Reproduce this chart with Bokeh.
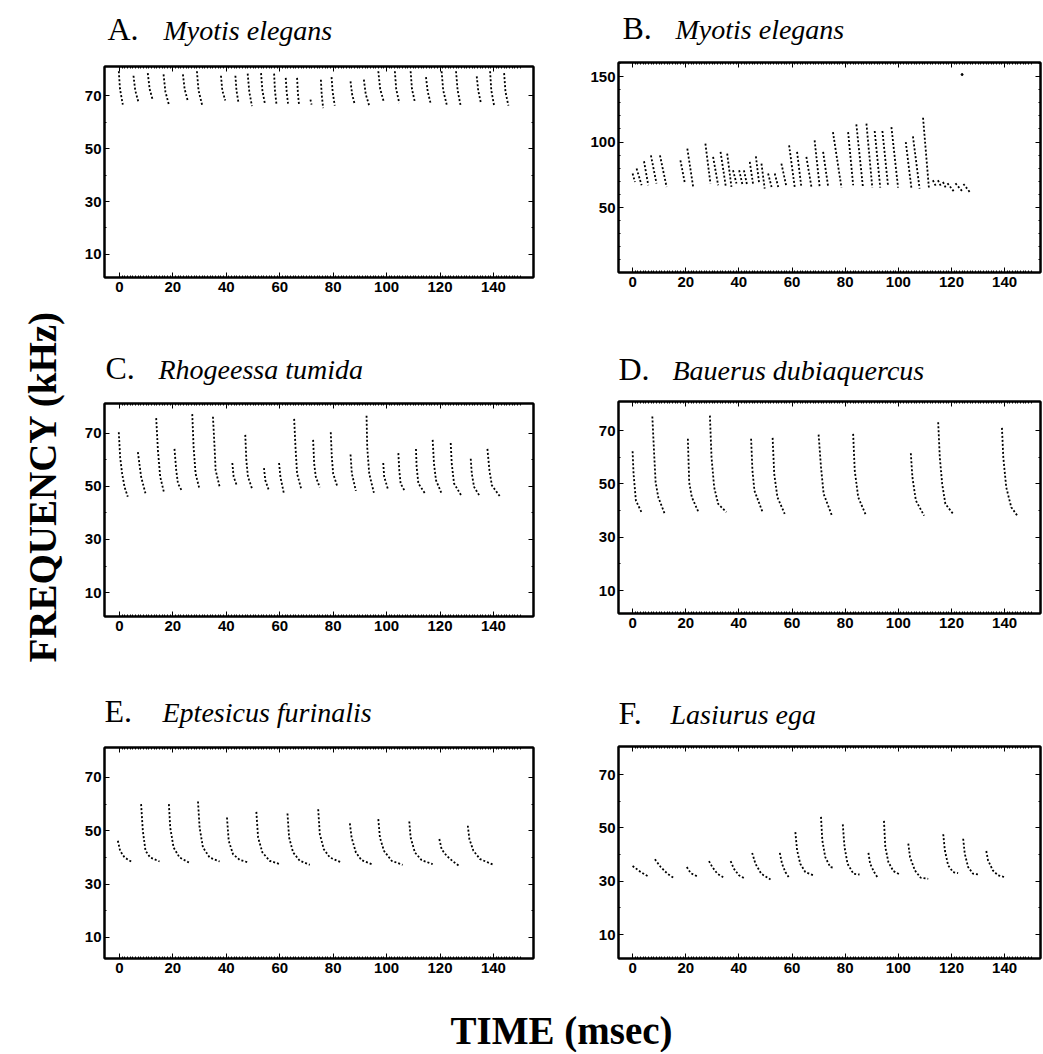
import math
from bokeh.plotting import figure
from bokeh.layouts import row, column
from bokeh.models import FixedTicker, LinearAxis, Range1d
from bokeh.embed import file_html
from bokeh.resources import INLINE
from bokeh.core.properties import value

# ---------------- data ----------------
X_TICKS = [0, 20, 40, 60, 80, 100, 120, 140]
X_MINOR = list(range(0, 151))
Y_TICKS_80 = [10, 30, 50, 70]
Y_MINOR_80 = [20, 40, 60]
Y_TICKS_B = [50, 100, 150]
Y_MINOR_B = [10, 20, 30, 40, 60, 70, 80, 90, 110, 120, 130, 140, 160]

LETTERS = ["A.", "B.", "C.", "D.", "E.", "F."]
SPECIES = ["Myotis elegans", "Myotis elegans", "Rhogeessa tumida",
           "Bauerus dubiaquercus", "Eptesicus furinalis", "Lasiurus ega"]
X_LABEL = "TIME (msec)"
Y_LABEL = "FREQUENCY (kHz)"

# Panel A: Myotis elegans (time msec, frequency kHz per call)
A_T = [[-0.25, 0.2, 1.25], [5.25, 5.9, 7.1], [10.6, 11.3, 12.5], [16.5, 17.2, 18.5],
       [23.75, 24.4, 25.6], [29.0, 29.6, 31.0], [38.0, 38.5, 39.6], [43.4, 43.8, 44.6],
       [48.0, 48.6, 49.6], [53.0, 53.5, 54.4], [57.9, 58.2, 58.75], [62.25, 62.6, 63.1],
       [66.5, 66.8, 67.25], [71.5, 71.9], [75.4, 75.7, 76.25], [79.4, 79.8, 80.6],
       [86.5, 87.1, 88.1], [91.5, 92.2, 93.5], [96.9, 97.6, 99.0], [103.1, 103.6, 104.75],
       [109.0, 109.5, 110.6], [114.75, 115.4, 116.5], [120.6, 121.2, 122.5],
       [126.0, 126.6, 127.75], [133.75, 134.3, 135.25], [138.75, 139.2, 140.25],
       [144.0, 144.5, 145.6]]
A_F = [[79.2, 72.5, 66.6], [77.5, 72.0, 67.5], [78.5, 72.5, 68.2], [78.0, 71.5, 66.6],
       [78.0, 72.5, 67.9], [79.2, 72.0, 66.2], [77.5, 72.0, 68.2], [77.5, 72.0, 67.0],
       [78.3, 71.5, 66.0], [78.5, 72.0, 67.2], [78.3, 72.0, 67.0], [76.7, 71.5, 67.0],
       [76.7, 71.0, 66.2], [68.5, 66.6], [76.0, 70.5, 65.3], [77.0, 71.5, 66.2],
       [75.4, 70.5, 66.6], [76.0, 70.5, 66.2], [79.2, 72.5, 67.5], [79.2, 72.5, 67.2],
       [79.2, 72.5, 67.5], [77.0, 71.5, 67.0], [79.2, 72.0, 66.6], [79.2, 72.0, 66.0],
       [77.3, 72.0, 67.5], [79.2, 72.0, 66.2], [78.5, 71.5, 66.2]]

# Panel B: Myotis elegans
B_T = [[0.0, 0.9], [1.5, 3.4], [4.3, 5.9], [6.9, 9.0], [10.3, 12.8], [18.0, 19.7],
       [20.6, 22.8], [27.4, 29.3], [30.3, 32.2], [33.1, 35.1], [35.6, 37.2], [37.8, 39.1],
       [40.1, 41.4], [41.9, 43.1], [44.1, 45.4], [46.4, 47.6], [48.5, 49.7], [51.0, 52.3],
       [53.5, 54.8], [56.0, 57.9], [58.9, 61.0], [61.9, 63.5], [65.4, 67.3], [68.5, 70.4],
       [71.7, 73.6], [75.4, 78.6], [81.1, 83.0], [84.2, 86.7], [88.0, 90.2], [91.1, 93.2],
       [94.0, 96.1], [97.4, 99.9], [102.8, 104.9], [105.5, 108.0], [109.3, 111.5],
       [113.0, 114.3], [114.9, 116.2], [116.8, 118.0], [118.5, 121.0], [121.5, 124.0],
       [124.5, 127.0]]
B_F = [[75.9, 69.5], [79.7, 67.0], [85.3, 67.0], [89.8, 68.3], [89.8, 65.7], [86.0, 68.3],
       [94.9, 65.7], [98.7, 68.3], [88.6, 67.0], [92.4, 65.7], [91.1, 65.7], [78.4, 68.3],
       [78.4, 67.0], [78.4, 67.0], [84.8, 67.0], [89.1, 68.8], [83.5, 64.5], [75.9, 65.7],
       [75.9, 65.7], [83.5, 65.7], [97.5, 65.7], [92.4, 65.7], [88.6, 65.7], [101.3, 65.7],
       [92.4, 65.7], [107.6, 65.2], [107.6, 67.0], [113.5, 65.2], [114.0, 65.2], [108.4, 65.2],
       [108.4, 67.0], [111.4, 65.2], [100.0, 65.2], [104.3, 64.5], [118.5, 65.2],
       [70.8, 65.7], [70.8, 65.7], [69.5, 64.5], [68.5, 62.0], [68.5, 62.5], [68.0, 61.5]]
B_DOT_T = [124.0]
B_DOT_F = [151.5]

# Panel C: Rhogeessa tumida
C_T = [[-0.25, 0.25, 1.0, 1.9, 3.1], [6.9, 8.1, 9.75], [13.75, 14.4, 15.25, 16.6],
       [20.6, 21.25, 21.9, 23.5], [27.25, 27.75, 28.5, 30.0], [35.0, 35.6, 36.0, 37.5],
       [42.25, 42.75, 44.0], [47.1, 47.5, 48.1, 49.75], [54.1, 54.6, 56.0],
       [59.75, 60.25, 61.5], [65.4, 65.9, 66.5, 68.1], [72.5, 72.9, 73.5, 75.0],
       [79.1, 79.5, 80.0, 81.5], [86.5, 87.0, 88.5], [92.5, 92.75, 93.5, 95.25],
       [98.75, 99.1, 100.6], [104.4, 104.75, 105.25, 106.9], [111.0, 111.25, 111.9, 114.4],
       [117.25, 117.75, 118.5, 120.6], [124.0, 124.4, 125.25, 128.1],
       [131.5, 131.9, 132.75, 135.0], [137.75, 138.5, 139.4, 142.5]]
C_F = [[70.4, 61.0, 54.8, 49.8, 46.1], [62.9, 53.6, 47.3], [75.7, 63.5, 53.6, 48.0],
       [64.1, 56.1, 51.1, 48.0], [77.2, 64.8, 54.8, 48.8], [76.2, 64.8, 56.1, 49.8],
       [58.8, 53.6, 50.1], [69.4, 59.8, 53.6, 48.8], [56.9, 52.3, 48.3],
       [58.8, 53.6, 47.6], [75.4, 64.8, 54.8, 48.8], [67.5, 58.5, 53.6, 49.6],
       [70.4, 61.0, 54.8, 50.1], [62.0, 54.8, 48.3], [76.6, 64.8, 54.8, 47.6],
       [58.8, 53.6, 48.6], [62.5, 56.1, 51.1, 48.0], [64.1, 57.3, 51.1, 47.3],
       [67.5, 58.5, 52.3, 47.3], [66.3, 58.5, 51.1, 46.3],
       [60.4, 54.8, 49.8, 46.1], [64.1, 56.1, 50.4, 46.1]]

# Panel D: Bauerus dubiaquercus
D_T = [[0.0, 0.37, 1.24, 3.35], [7.43, 8.05, 8.67, 9.67, 12.1], [20.8, 21.3, 22.3, 24.8],
       [29.1, 29.7, 30.7, 32.2, 35.3], [44.6, 45.1, 45.85, 48.9], [52.7, 53.3, 54.5, 57.25],
       [70.0, 70.9, 71.9, 74.9], [83.0, 83.6, 84.9, 87.7], [104.7, 105.3, 106.6, 109.7],
       [115.0, 115.6, 116.5, 117.7, 120.8], [139.0, 139.5, 140.6, 142.5, 145.0]]
D_F = [[62.25, 53.75, 43.75, 39.4], [75.25, 62.5, 50.6, 45.0, 38.75], [66.9, 50.6, 45.0, 39.4],
       [75.6, 60.0, 48.75, 42.5, 39.4], [66.9, 55.0, 47.5, 39.4], [67.25, 53.75, 45.0, 38.75],
       [68.5, 56.25, 46.25, 38.4], [68.75, 55.0, 45.0, 38.5], [61.5, 52.5, 43.75, 38.1],
       [73.1, 60.0, 50.0, 42.5, 38.5], [71.0, 60.0, 48.75, 41.25, 37.75]]

# Panel E: Eptesicus furinalis
E_T = [[-0.6, 0.25, 1.9, 5.0], [8.1, 8.75, 9.75, 11.5, 15.0], [18.5, 19.0, 20.25, 22.5, 26.0],
       [29.4, 30.0, 31.25, 33.75, 37.5], [40.25, 40.9, 42.5, 45.0, 48.4],
       [51.25, 51.9, 53.5, 56.25, 60.0], [62.9, 63.5, 65.0, 67.5, 71.25],
       [74.4, 75.0, 76.5, 78.75, 83.1], [86.25, 86.9, 88.5, 90.6, 94.4],
       [96.9, 97.5, 99.0, 101.9, 106.0], [108.5, 109.0, 110.6, 113.1, 117.25],
       [119.75, 120.6, 122.5, 125.0, 127.5], [130.4, 131.0, 132.5, 135.0, 140.0]]
E_F = [[46.25, 42.5, 40.0, 38.1], [60.0, 50.0, 42.5, 40.0, 38.5], [60.0, 51.25, 43.75, 40.0, 38.1],
       [61.0, 51.25, 43.75, 40.0, 38.5], [55.0, 46.25, 41.25, 39.1, 38.1],
       [57.1, 47.5, 41.9, 38.75, 37.5], [56.5, 47.5, 41.9, 38.75, 37.25],
       [58.1, 48.75, 43.1, 40.0, 38.1], [52.75, 47.5, 41.9, 39.0, 37.5],
       [54.4, 47.5, 42.5, 38.75, 37.25], [53.5, 47.5, 41.9, 39.0, 37.5],
       [46.9, 43.1, 40.6, 38.4, 36.6], [51.9, 46.9, 42.5, 39.4, 37.25]]

# Panel F: Lasiurus ega
F_T = [[0.0, 3.1, 5.9], [8.4, 10.6, 13.1, 15.4], [20.4, 21.9, 24.4], [28.75, 30.0, 31.9, 34.1],
       [36.9, 38.1, 40.0, 42.5], [45.0, 46.25, 48.4, 51.9], [55.4, 56.25, 57.5, 58.75],
       [61.25, 61.9, 63.1, 65.0, 68.1], [70.9, 71.4, 72.5, 74.4, 75.9],
       [79.1, 79.75, 80.9, 83.1, 85.4], [88.75, 89.4, 90.9, 92.1],
       [94.6, 95.1, 96.25, 98.1, 100.6], [103.75, 104.4, 106.25, 108.4, 111.25],
       [116.9, 117.5, 118.75, 120.6, 122.5], [124.4, 125.0, 126.25, 128.1, 130.4],
       [133.1, 133.75, 135.6, 137.5, 140.0]]
F_F = [[35.7, 33.4, 31.8], [38.2, 35.3, 32.8, 31.3], [35.3, 33.0, 31.8], [37.5, 35.3, 32.8, 31.5],
       [37.5, 34.7, 32.2, 30.9], [40.6, 36.5, 32.8, 30.6], [40.6, 36.5, 33.4, 31.5],
       [48.4, 41.6, 36.5, 33.4, 32.2], [54.1, 45.3, 39.0, 35.3, 35.0],
       [51.3, 42.8, 36.5, 32.8, 32.5], [40.6, 36.5, 33.4, 31.5],
       [52.6, 42.8, 37.2, 33.8, 32.5], [44.1, 39.0, 34.0, 31.3, 30.9],
       [47.6, 41.6, 35.9, 33.4, 33.0], [45.9, 40.3, 35.3, 32.8, 32.5],
       [41.3, 37.8, 34.0, 32.2, 31.5]]

# ---------------- layout / style ----------------
TICK_FONT = "Liberation Sans"
SERIF = "Liberation Serif"
LAB_W = 66
C1_LEFT, C1_FW, C1_RIGHT = 38, 429, 39
C2_LEFT, C2_FW, C2_RIGHT = 46, 422, 2


def style_axis(ax, yticks, yminor, is_x, show_labels):
    if is_x:
        ax.ticker = FixedTicker(ticks=X_TICKS, minor_ticks=X_MINOR)
    else:
        ax.ticker = FixedTicker(ticks=yticks, minor_ticks=yminor)
    ax.axis_line_color = "black"
    ax.axis_line_width = 2
    ax.major_tick_in = 5
    ax.major_tick_out = 0
    ax.minor_tick_in = 2
    ax.minor_tick_out = 0
    ax.major_tick_line_color = "black"
    ax.minor_tick_line_color = "black"
    ax.major_tick_line_width = 1
    ax.minor_tick_line_width = 1
    if show_labels:
        ax.major_label_text_font = TICK_FONT
        ax.major_label_text_font_style = "bold"
        ax.major_label_text_font_size = "15px"
        ax.major_label_text_color = "black"
        ax.major_label_standoff = 4 if is_x else 3
    else:
        ax.major_label_text_color = None
        ax.major_label_text_font_size = "0px"
        ax.major_label_standoff = 0


def blank_fig(w, h):
    f = figure(width=w, height=h, x_range=Range1d(0, w), y_range=Range1d(0, h),
               output_backend="svg", toolbar_location=None, min_border=0,
               x_axis_location=None, y_axis_location=None, outline_line_color=None)
    f.grid.visible = False
    return f


def title_fig(idx, left, fw, right, h, base_from_top, ldx, sdx):
    # frame matches the panel frame below it; x is measured from the frame's left edge
    f = figure(frame_width=fw, frame_height=h, x_range=Range1d(0, fw), y_range=Range1d(0, h),
               output_backend="svg", toolbar_location=None,
               min_border_left=left, min_border_right=right, min_border_top=0,
               min_border_bottom=0, x_axis_location=None, y_axis_location=None,
               outline_line_color=None)
    f.grid.visible = False
    f.text(x=[ldx], y=[h - base_from_top + 10.8], text=[LETTERS[idx]],
           text_font=value(SERIF), text_font_size="32px", text_color="black",
           text_baseline="middle", text_align="left")
    f.text(x=[sdx], y=[h - base_from_top + 9.4], text=[SPECIES[idx]],
           text_font=value(SERIF), text_font_style="italic", text_font_size="28px",
           text_color="black", text_baseline="middle", text_align="left")
    return f


def make_panel(ts, fs, xr, yr, left, fw, right, fh, bottom, yticks, yminor, dots=None):
    p = figure(frame_width=fw, frame_height=fh, x_range=Range1d(*xr), y_range=Range1d(*yr),
               output_backend="svg", toolbar_location=None,
               min_border_top=6, min_border_bottom=bottom,
               min_border_left=left, min_border_right=right)
    p.grid.visible = False
    p.outline_line_color = "black"
    p.outline_line_width = 2
    p.background_fill_color = "white"
    p.border_fill_color = "white"
    style_axis(p.xaxis[0], yticks, yminor, True, True)
    style_axis(p.yaxis[0], yticks, yminor, False, True)
    top_ax = LinearAxis()
    style_axis(top_ax, yticks, yminor, True, False)
    p.add_layout(top_ax, "above")
    right_ax = LinearAxis()
    style_axis(right_ax, yticks, yminor, False, False)
    p.add_layout(right_ax, "right")

    p.multi_line(xs=ts, ys=fs, line_color="black", line_width=1.8, line_dash="2 2")
    if dots is not None:
        p.scatter(x=dots[0], y=dots[1], size=2, color="black")
    return p


XR1 = (-5.6, 155.0)
XR2 = (-5.3, 153.5)
C1 = (C1_LEFT, C1_FW, C1_RIGHT)
C2 = (C2_LEFT, C2_FW, C2_RIGHT)

tA = title_fig(0, *C1, 60, 39, 3, 59)
pA = make_panel(A_T, A_F, XR1, (1.3, 81.0), *C1, 211, 30, Y_TICKS_80, Y_MINOR_80)
tC = title_fig(2, *C1, 90, 71, 1, 54)
pC = make_panel(C_T, C_F, XR1, (1.0, 81.2), *C1, 213, 30, Y_TICKS_80, Y_MINOR_80)
tE = title_fig(4, *C1, 95, 75, 0, 58)
pE = make_panel(E_T, E_F, XR1, (2.1, 81.25), *C1, 211, 28, Y_TICKS_80, Y_MINOR_80)

tB = title_fig(1, *C2, 56, 38, 4, 57)
pB = make_panel(B_T, B_F, XR2, (0.4, 160.7), *C2, 210, 30, Y_TICKS_B, Y_MINOR_B,
                dots=(B_DOT_T, B_DOT_F))
tD = title_fig(3, *C2, 93, 77, 0, 54)
pD = make_panel(D_T, D_F, XR2, (1.4, 80.9), *C2, 212, 30, Y_TICKS_80, Y_MINOR_80)
tF = title_fig(5, *C2, 97, 80, 0, 52)
pF = make_panel(F_T, F_F, XR2, (1.0, 80.5), *C2, 212, 28, Y_TICKS_80, Y_MINOR_80)

# left axis title
LH = 986
lab = blank_fig(LAB_W, LH)
lab.text(x=[42], y=[LH - 486], text=[Y_LABEL], angle=math.pi / 2,
         text_font=value(SERIF), text_font_style="bold", text_font_size="39px",
         text_align="center", text_baseline="middle", text_color="black")

# bottom axis title
TW, TH = 1042, 66
tfig = blank_fig(TW, TH)
tfig.text(x=[561], y=[TH - (1030 - LH)], text=[X_LABEL], text_font=value(SERIF),
          text_font_style="bold", text_font_size="39px", text_align="center",
          text_baseline="middle", text_color="black")

layout = column(row(lab, column(tA, pA, tC, pC, tE, pE), column(tB, pB, tD, pD, tF, pF)),
                tfig)

open("out.html", "w").write(file_html(layout, INLINE))
